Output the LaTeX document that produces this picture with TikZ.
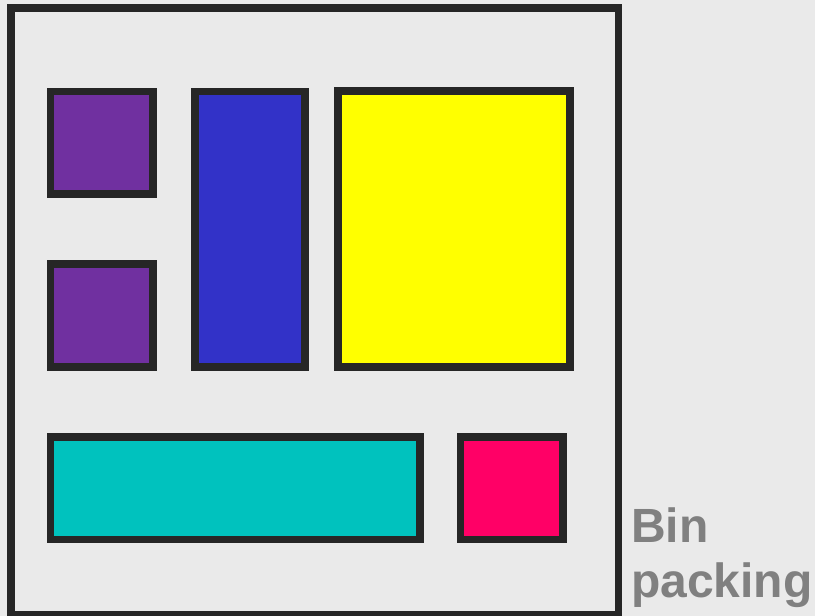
\documentclass[tikz,border=0pt]{standalone}
\usepackage{fontspec}
\setmainfont{Liberation Sans}
\definecolor{bgc}{HTML}{EAEAEA}
\definecolor{edge}{HTML}{262626}
\definecolor{cpurple}{HTML}{7030A0}
\definecolor{cblue}{HTML}{3232C8}
\definecolor{cyellow}{HTML}{FFFF00}
\definecolor{ccyan}{HTML}{00C2BE}
\definecolor{cpink}{HTML}{FF0066}
\definecolor{ctext}{HTML}{808080}
\begin{document}
\begin{tikzpicture}[x=1pt,y=-1pt,
  box/.style={draw=edge, line width=7.8pt, rectangle, inner sep=0pt, outer sep=0pt},
  lbl/.style={anchor=base west, inner sep=0pt, text=ctext, font=\fontsize{48}{55}\selectfont\bfseries}]
\fill[bgc] (0,0) rectangle (815,616);
\useasboundingbox (0,0) rectangle (815,616);
\node[box, minimum width=607.2pt, minimum height=606.2pt] (bin) at (314.9,311.4) {};
\node[box, fill=cpurple, minimum width=102.6pt, minimum height=102.2pt] (p1) at (101.7,142.6) {};
\node[box, fill=cpurple, minimum width=102.6pt, minimum height=102.7pt] (p2) at (101.7,315.35) {};
\node[box, fill=cblue, minimum width=110.3pt, minimum height=275.2pt] (blue) at (249.85,229.1) {};
\node[box, fill=cyellow, minimum width=231.7pt, minimum height=275.4pt] (yellow) at (454.15,229) {};
\node[box, fill=ccyan, minimum width=369.8pt, minimum height=102.2pt] (cyan) at (235.4,488.4) {};
\node[box, fill=cpink, minimum width=102.5pt, minimum height=102.2pt] (pink) at (511.75,488.4) {};
\node[lbl] (l1) at (631,542.3) {Bin};
\node[lbl] (l2) at (631,597.3) {packing};
\end{tikzpicture}
\end{document}
